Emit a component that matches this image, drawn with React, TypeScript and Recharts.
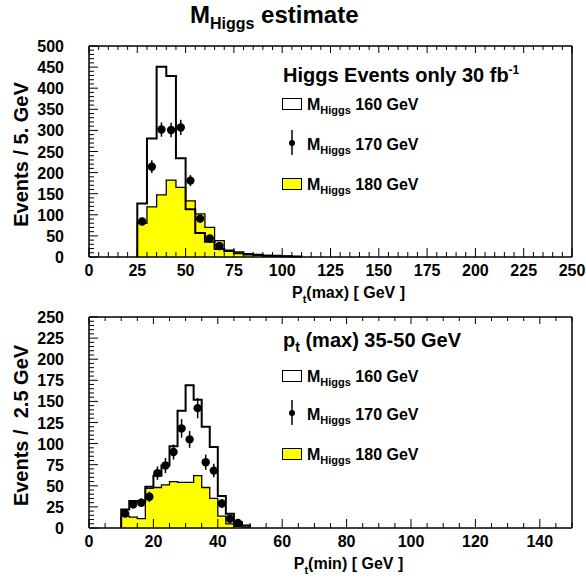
import React from 'react';
import { ComposedChart, Area, Line, Scatter, ErrorBar, XAxis, YAxis, Legend, Label } from 'recharts';

const FONT = '"Liberation Sans", Arial, Helvetica, sans-serif';

// legend entries (Higgs mass hypotheses)
const massLabels = ['160', '170', '180'];

// ---- top panel: Pt(max), 5 GeV bins ----
const maxBinLow = [25, 30, 35, 40, 45, 50, 55, 60, 65, 70, 75, 80, 85, 90, 95, 100, 105];
const maxH160 = [127, 281, 451, 429, 234, 113, 57, 36, 19, 14, 9, 6, 5, 3, 3, 2, 1];
const maxH180 = [80, 119, 147, 182, 165, 133, 102, 70, 39, 16, 12, 8, 6, 4, 3, 2, 1];
const maxCenters = [27.5, 32.5, 37.5, 42.5, 47.5, 52.5, 57.5, 62.5, 67.5];
const maxH170 = [84, 214, 302, 301, 307, 181, 91, 44, 26];
const maxH170Err = [9, 15, 17, 17, 18, 13, 10, 7, 5];
const maxXTicks = [0, 25, 50, 75, 100, 125, 150, 175, 200, 225, 250];
const maxYTicks = [0, 50, 100, 150, 200, 250, 300, 350, 400, 450, 500];

// ---- bottom panel: Pt(min) for Pt(max) 35-50 GeV, 2.5 GeV bins ----
const minBinLow = [10, 12.5, 15, 17.5, 20, 22.5, 25, 27.5, 30, 32.5, 35, 37.5, 40, 42.5, 45, 47.5];
const minH160 = [22, 32, 32, 49, 62, 74, 97, 139, 169, 152, 120, 96, 38, 17, 7, 3];
const minH180 = [14, 13, 11, 47, 48, 51, 55, 54, 54, 62, 48, 35, 14, 5, 2, 1];
const minCenters = [11.25, 13.75, 16.25, 18.75, 21.25, 23.75, 26.25, 28.75, 31.25, 33.75, 36.25, 38.75, 41.25, 43.75, 46.25];
const minH170 = [17, 28, 30, 37, 65, 74, 90, 118, 105, 142, 78, 68, 29, 11, 6];
const minH170Err = [4, 5, 5, 6, 8, 9, 9, 11, 10, 12, 9, 8, 5, 3, 2];
const minXTicks = [0, 20, 40, 60, 80, 100, 120, 140];
const minYTicks = [0, 25, 50, 75, 100, 125, 150, 175, 200, 225, 250];

const range = (a: number, b: number, s: number) => {
  const out: number[] = [];
  for (let v = a; v <= b + 1e-9; v += s) out.push(Math.round(v * 100) / 100);
  return out;
};

// histogram outline points (bin edges) for stepAfter curves
const stepRows = (lows: number[], w: number, h160: number[], h180: number[]) => {
  const rows = [{ x: lows[0], h160: 0, h180: 0 }];
  lows.forEach((lo, i) => rows.push({ x: lo, h160: h160[i], h180: h180[i] }));
  rows.push({ x: lows[lows.length - 1] + w, h160: 0, h180: 0 });
  return rows;
};

const pointRows = (xs: number[], ys: number[], errs: number[]) =>
  xs.map((x, i) => ({ x, y: ys[i], err: errs[i] }));

const frame = { stroke: '#000', strokeWidth: 1.5 };
const textProps = { fontFamily: FONT, fontWeight: 'bold', fill: '#000' } as const;

// ROOT style ticks: pointing into the frame, long for major, short for minor
const makeTick = (side: 'bottom' | 'top' | 'left' | 'right', major: number[], big: number, small: number) =>
  (props: any) => {
    const { x, y, payload } = props;
    const isMajor = major.some((m) => Math.abs(m - payload.value) < 1e-6);
    const len = isMajor ? big : small;
    if (side === 'bottom') {
      return (
        <g>
          <line x1={x} y1={y} x2={x} y2={y - len} stroke="#000" strokeWidth={1} />
          {isMajor && (
            <text x={x} y={y + 19} textAnchor="middle" fontSize={16} {...textProps}>{payload.value}</text>
          )}
        </g>
      );
    }
    if (side === 'top') return <line x1={x} y1={y} x2={x} y2={y + len} stroke="#000" strokeWidth={1} />;
    if (side === 'right') return <line x1={x} y1={y} x2={x - len} y2={y} stroke="#000" strokeWidth={1} />;
    return (
      <g>
        <line x1={x} y1={y} x2={x + len} y2={y} stroke="#000" strokeWidth={1} />
        {isMajor && (
          <text x={x - 25} y={y + 6} textAnchor="end" fontSize={16} {...textProps}>{payload.value}</text>
        )}
      </g>
    );
  };

const Icon = ({ kind }: { kind: number }) => {
  if (kind === 1) {
    return (
      <svg width={22} height={26} style={{ position: 'absolute', left: 0, top: -7 }}>
        <line x1={11} y1={0} x2={11} y2={25} stroke="#000" strokeWidth={1.5} />
        <circle cx={11} cy={13} r={3} fill="#000" />
      </svg>
    );
  }
  return (
    <div
      style={{
        position: 'absolute',
        left: 1,
        top: 1.5,
        width: 18,
        height: 10,
        border: '1.5px solid #000',
        background: kind === 2 ? '#ffff00' : '#fff',
      }}
    />
  );
};

const LegendBox = ({ header, rowTops }: { header: React.ReactNode; rowTops: number[] }) => (
  <div style={{ position: 'relative', width: 290, height: 150, fontFamily: FONT, fontWeight: 'bold', color: '#000' }}>
    <div style={{ position: 'absolute', left: 2, top: 2, fontSize: 20, lineHeight: '20px', whiteSpace: 'nowrap' }}>
      {header}
    </div>
    {massLabels.map((m, i) => (
      <div key={m} style={{ position: 'absolute', left: 0, top: rowTops[i], width: 290, height: 16 }}>
        <Icon kind={i} />
        <span style={{ position: 'absolute', left: 26, top: 0, fontSize: 16, lineHeight: '16px', whiteSpace: 'nowrap' }}>
          M<span style={{ fontSize: 11, position: 'relative', top: 4 }}>Higgs</span> {m} GeV
        </span>
      </div>
    ))}
  </div>
);

type PanelProps = {
  height: number;
  top: number;
  marginTop: number;
  bottomAxis: number;
  rows: { x: number; h160: number; h180: number }[];
  points: { x: number; y: number; err: number }[];
  xMax: number;
  xTicks: number[];
  xMinor: number[];
  yMax: number;
  yTicks: number[];
  yMinor: number[];
  xSub: string;
  yTitle: string;
  header: React.ReactNode;
  legendTop: number;
  rowTops: number[];
};

const Panel = (p: PanelProps) => (
  <div style={{ position: 'absolute', left: 0, top: p.top }}>
    <ComposedChart
      width={586}
      height={p.height}
      data={p.rows}
      margin={{ top: p.marginTop - 1, right: 13, bottom: 0, left: 0 }}
    >
      <XAxis xAxisId="b" dataKey="x" type="number" domain={[0, p.xMax]} ticks={p.xMinor} interval={0}
        height={p.bottomAxis} tick={makeTick('bottom', p.xTicks, 9, 5)} tickSize={0} tickMargin={0}
        axisLine={frame} tickLine={false}>
        <Label
          content={({ viewBox }: any) => (
            <text x={viewBox.x + viewBox.width / 2 + 18} y={viewBox.y + 41} textAnchor="middle"
              fontSize={16} {...textProps}>
              P<tspan dy={5} fontSize={11}>t</tspan>
              <tspan dy={-5}>({p.xSub}) [ GeV ]</tspan>
            </text>
          )}
        />
      </XAxis>
      <XAxis xAxisId="t" orientation="top" dataKey="x" type="number" domain={[0, p.xMax]} ticks={p.xMinor}
        interval={0} height={1} tick={makeTick('top', p.xTicks, 7, 4)} tickSize={0} tickMargin={0}
        axisLine={frame} tickLine={false} />
      <YAxis yAxisId="l" type="number" domain={[0, p.yMax]} ticks={p.yMinor} interval={0} width={89}
        tick={makeTick('left', p.yTicks, 9, 5)} tickSize={0} tickMargin={0} axisLine={frame} tickLine={false}>
        <Label
          content={({ viewBox }: any) => {
            const cx = 28;
            const cy = viewBox.y + viewBox.height / 2 + 3;
            return (
              <text x={cx} y={cy} transform={`rotate(-90, ${cx}, ${cy})`} textAnchor="middle"
                fontSize={20} {...textProps} style={{ whiteSpace: 'pre' }}>
                {p.yTitle}
              </text>
            );
          }}
        />
      </YAxis>
      <YAxis yAxisId="r" orientation="right" type="number" domain={[0, p.yMax]} ticks={p.yMinor} interval={0}
        width={1} tick={makeTick('right', p.yTicks, 7, 4)} tickSize={0} tickMargin={0} axisLine={frame}
        tickLine={false} />

      <Area xAxisId="b" yAxisId="l" dataKey="h180" type="stepAfter" fill="#ffff00" fillOpacity={1}
        stroke="#000" strokeWidth={1.3} isAnimationActive={false} />
      <Line xAxisId="b" yAxisId="l" dataKey="h160" type="stepAfter" stroke="#000" strokeWidth={2}
        dot={false} isAnimationActive={false} />
      <Scatter xAxisId="b" yAxisId="l" data={p.points} dataKey="y" fill="#000" isAnimationActive={false}
        shape={(s: any) => <circle cx={s.cx} cy={s.cy} r={4.2} fill="#000" />}>
        <ErrorBar dataKey="err" direction="y" width={0} stroke="#000" strokeWidth={1.5} />
      </Scatter>
      <Legend
        layout="vertical"
        align="center"
        verticalAlign="middle"
        wrapperStyle={{ left: 281, top: p.legendTop, width: 290, height: 150 }}
        content={() => <LegendBox header={p.header} rowTops={p.rowTops} />}
      />
    </ComposedChart>
  </div>
);

export default function App() {
  return (
    <div style={{ position: 'absolute', left: 0, top: 0, width: 586, height: 578, background: '#fff' }}>
      <div
        style={{
          position: 'absolute',
          left: 190,
          top: 2,
          fontFamily: FONT,
          fontWeight: 'bold',
          fontSize: 24,
          lineHeight: '26px',
          whiteSpace: 'nowrap',
          color: '#000',
        }}
      >
        M<span style={{ fontSize: 16, position: 'relative', top: 6 }}>Higgs</span> estimate
      </div>
      <Panel
        top={0}
        height={312}
        marginTop={46}
        bottomAxis={55}
        rows={stepRows(maxBinLow, 5, maxH160, maxH180)}
        points={pointRows(maxCenters, maxH170, maxH170Err)}
        xMax={250}
        xTicks={maxXTicks}
        xMinor={range(0, 250, 5)}
        yMax={500}
        yTicks={maxYTicks}
        yMinor={range(0, 500, 10)}
        xSub="max"
        yTitle="Events / 5. GeV"
        header={<>Higgs Events only 30 fb<sup style={{ fontSize: 12 }}>-1</sup></>}
        legendTop={58}
        rowTops={[38.5, 78.5, 118.5]}
      />
      <Panel
        top={300}
        height={278}
        marginTop={17}
        bottomAxis={50}
        rows={stepRows(minBinLow, 2.5, minH160, minH180)}
        points={pointRows(minCenters, minH170, minH170Err)}
        xMax={150}
        xTicks={minXTicks}
        xMinor={range(0, 150, 5)}
        yMax={250}
        yTicks={minYTicks}
        yMinor={range(0, 250, 5)}
        xSub="min"
        yTitle="Events /  2.5 GeV"
        header={<>p<span style={{ fontSize: 14, position: 'relative', top: 5 }}>t</span> (max) 35-50 GeV</>}
        legendTop={28}
        rowTops={[40.5, 78.5, 118.5]}
      />
    </div>
  );
}
